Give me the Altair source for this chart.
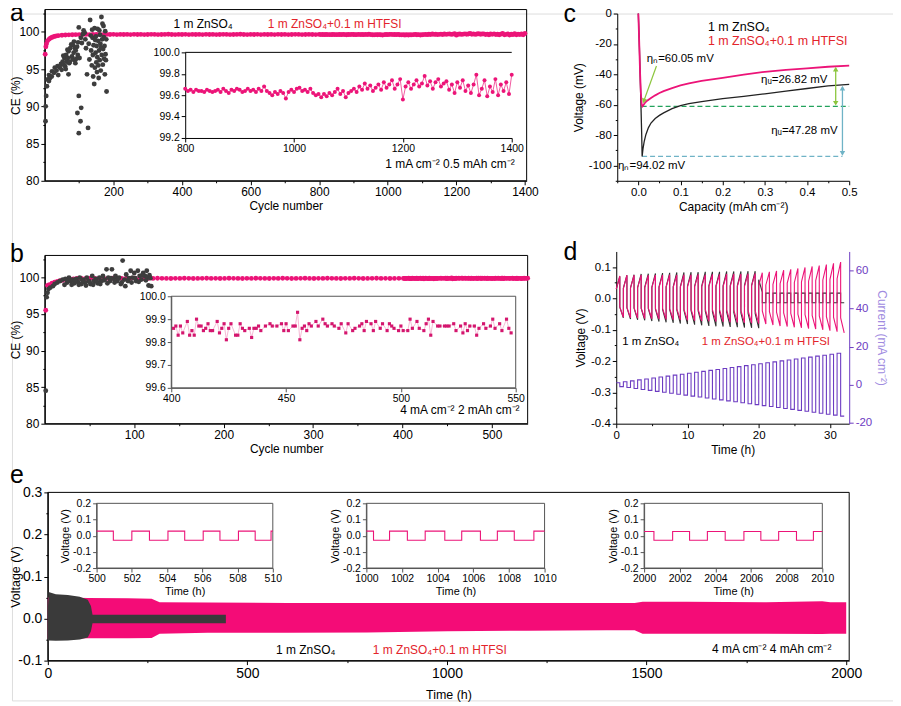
import altair as alt
import pandas as pd

FONT = "Liberation Sans"
PINK = "#EC1478"
GRAY = "#3D3D3D"
RED = "#E3242B"
PURPLE = "#6D3CC2"
LPURPLE = "#A08BDF"
GREEN = "#23A25C"
LGREEN = "#8CC63E"
TEAL = "#6FB3C6"
INSET = "#555555"

W, H = 885, 690
OX, OY = 12, 12
MINUS = "\u2212"

# ---------------- data ----------------
# panel a (1 mA cm-2, 0.5 mAh cm-2)
a_early_cycle = [1, 3, 5, 8, 12, 16, 20, 25, 30, 35, 40, 50, 60, 70, 80, 90, 100] + list(range(110, 800, 10))
a_early_ce = [97.0, 98.0, 98.4, 98.8, 99.0, 99.15, 99.25, 99.35, 99.42, 99.47, 99.5, 99.55, 99.58, 99.6, 99.62, 99.63, 99.64,
              99.65, 99.66, 99.64, 99.67, 99.65, 99.66, 99.64, 99.66, 99.65, 99.67,
              99.64, 99.66, 99.65, 99.66, 99.64, 99.67, 99.65, 99.66, 99.64, 99.65,
              99.67, 99.66, 99.64, 99.65, 99.66, 99.68, 99.65, 99.64, 99.66, 99.65,
              99.67, 99.64, 99.66, 99.65, 99.66, 99.64, 99.67, 99.65, 99.66, 99.64,
              99.65, 99.67, 99.66, 99.64, 99.65, 99.66, 99.68, 99.65, 99.64, 99.66,
              99.65, 99.67, 99.64, 99.66, 99.65, 99.66, 99.64, 99.67, 99.65, 99.66,
              99.64, 99.65, 99.67, 99.66, 99.64, 99.65, 99.66, 99.65, 99.64]
a_inset_cycle = list(range(800, 1401, 5))
a_inset_ce = [99.66, 99.64, 99.65, 99.63, 99.65, 99.64, 99.64, 99.63, 99.65, 99.64,
              99.63, 99.64, 99.65, 99.63, 99.66, 99.64, 99.62, 99.65, 99.64, 99.66,
              99.65, 99.63, 99.64, 99.66, 99.64, 99.65, 99.63, 99.66, 99.64, 99.68,
              99.64, 99.62, 99.60, 99.63, 99.61, 99.64, 99.62, 99.57, 99.63, 99.65,
              99.63, 99.66, 99.67, 99.64, 99.65, 99.63, 99.66, 99.62, 99.60, 99.61,
              99.58, 99.61, 99.59, 99.62, 99.60, 99.63, 99.66, 99.61, 99.64, 99.58,
              99.62, 99.64, 99.66, 99.63, 99.68, 99.65, 99.71, 99.66, 99.69, 99.64,
              99.67, 99.70, 99.65, 99.72, 99.67, 99.70, 99.74, 99.66, 99.70, 99.75,
              99.56, 99.68, 99.72, 99.66, 99.70, 99.74, 99.68, 99.71, 99.78, 99.69,
              99.73, 99.66, 99.72, 99.75, 99.68, 99.71, 99.73, 99.65, 99.70, 99.62,
              99.72, 99.67, 99.74, 99.64, 99.69, 99.62, 99.70, 99.79, 99.60, 99.66,
              99.74, 99.59, 99.68, 99.63, 99.75, 99.60, 99.70, 99.64, 99.72, 99.61,
              99.79]
a_gray_cycle = [2, 2.5, 4, 6, 8, 12, 12, 15, 20, 21, 27, 29, 34, 37, 39, 44, 47, 49, 52, 55,
                57, 59, 62, 64, 67, 69, 69, 71, 74, 79, 82, 84, 86, 88, 94, 96, 97, 99, 99, 95,
                99, 106, 104, 101, 111, 116, 123, 126, 128, 130, 132, 135, 137, 139, 140, 142, 144, 145, 146, 148,
                149, 150, 151, 152, 153, 155, 156, 158, 159, 160, 162, 163, 165, 166, 168, 169, 170, 172, 173, 175,
                176, 178, 180,
                105, 108, 113, 118, 120, 134, 138, 141, 147, 154, 157, 161, 164, 167, 171, 174, 177, 179, 54, 61,
                66, 73, 77, 81, 85, 90, 92, 89]
a_gray_ce = [88.0, 90.0, 91.4, 92.7, 93.6, 93.4, 94.2, 93.8, 94.0, 94.7, 94.5, 95.2, 94.8, 95.4, 94.2, 95.2, 95.7, 94.9, 96.0, 95.6,
             96.5, 95.4, 96.9, 96.0, 96.5, 97.4, 94.3, 95.8, 97.8, 96.7, 98.2, 97.2, 96.2, 97.8, 98.0, 96.9, 98.6, 100.6, 91.4, 89.1,
             86.4, 89.8, 88.0, 96.5, 99.7, 99.9, 94.3, 87.1, 98.4, 96.3, 101.6, 97.5, 95.5, 99.2, 96.9, 98.2, 93.0, 100.5, 95.2, 97.2,
             99.4, 95.9, 98.1, 94.6, 96.6, 98.8, 95.5, 97.5, 100.2, 96.2, 98.4, 94.8, 102.0, 96.9, 101.1, 95.6, 97.7, 99.3, 96.4, 94.3,
             100.1, 96.2, 92.0,
             99.2, 98.5, 100.2, 99.0, 97.8, 99.5, 100.3, 94.0, 98.9, 100.4, 93.8, 99.6, 97.9, 99.0, 100.8, 98.1, 97.0, 99.0, 96.8, 95.0,
             97.6, 96.0, 98.3, 96.4, 98.7, 97.5, 96.4, 95.8]

# panel b (4 mA cm-2, 2 mAh cm-2)
b_early_cycle = [1, 3, 5, 8, 11, 14, 17, 20, 24, 28, 32] + list(range(36, 400, 5))
b_early_ce = [95.5, 98.9, 99.0, 99.2, 99.35, 99.45, 99.55, 99.6, 99.7, 99.75, 99.8,
              99.86, 99.87, 99.85, 99.88, 99.86, 99.87, 99.85, 99.86, 99.88, 99.87,
              99.85, 99.86, 99.87, 99.88, 99.86, 99.85, 99.87, 99.86, 99.88, 99.87,
              99.86, 99.85, 99.87, 99.86, 99.88, 99.87, 99.85, 99.86, 99.87, 99.88,
              99.86, 99.87, 99.85, 99.86, 99.88, 99.87, 99.86, 99.85, 99.87, 99.86,
              99.88, 99.87, 99.86, 99.85, 99.87, 99.86, 99.88, 99.87, 99.85, 99.86,
              99.87, 99.88, 99.86, 99.85, 99.87, 99.86, 99.88, 99.87, 99.86, 99.85,
              99.87, 99.86, 99.88, 99.87, 99.85, 99.86, 99.87, 99.88, 99.86, 99.87,
              99.85, 99.86, 99.87]
b_inset_cycle = [401, 402, 403, 404, 405, 407, 408, 409, 410, 411,
                 412, 413, 414, 415, 416, 417, 418, 420, 421, 422,
                 423, 424, 425, 426, 428, 429, 430, 431, 432, 434,
                 435, 436, 437, 438, 439, 441, 443, 444, 446, 448,
                 449, 450, 451, 453, 454, 455, 456, 457, 458, 459,
                 460, 461, 463, 464, 466, 467, 468, 470, 471, 473,
                 474, 476, 477, 479, 480, 482, 483, 484, 485, 487,
                 488, 489, 491, 492, 494, 495, 496, 497, 499, 500,
                 501, 503, 504, 505, 507, 508, 510, 511, 512, 513,
                 514, 516, 517, 519, 520, 521, 523, 524, 526, 527,
                 528, 529, 530, 532, 533, 534, 536, 537, 539, 540,
                 541, 543, 544, 546, 547, 548]
b_inset_ce = [99.86, 99.87, 99.83, 99.87, 99.84, 99.89, 99.83, 99.85, 99.83, 99.90,
              99.87, 99.87, 99.85, 99.86, 99.88, 99.85, 99.85, 99.89, 99.84, 99.86,
              99.88, 99.81, 99.86, 99.88, 99.83, 99.83, 99.88, 99.86, 99.85, 99.86,
              99.82, 99.86, 99.86, 99.87, 99.85, 99.87, 99.88, 99.87, 99.87, 99.88,
              99.85, 99.88, 99.85, 99.87, 99.87, 99.93, 99.81, 99.86, 99.87, 99.85,
              99.88, 99.87, 99.89, 99.87, 99.90, 99.88, 99.87, 99.88, 99.87, 99.86,
              99.88, 99.84, 99.88, 99.85, 99.86, 99.87, 99.88, 99.85, 99.89, 99.88,
              99.85, 99.89, 99.86, 99.88, 99.85, 99.88, 99.87, 99.86, 99.85, 99.87,
              99.85, 99.85, 99.90, 99.86, 99.89, 99.86, 99.85, 99.88, 99.90, 99.83,
              99.89, 99.87, 99.87, 99.87, 99.87, 99.87, 99.88, 99.85, 99.87, 99.84,
              99.88, 99.85, 99.87, 99.87, 99.83, 99.86, 99.88, 99.86, 99.87, 99.90,
              99.86, 99.88, 99.85, 99.90, 99.86, 99.84]
b_gray_cycle = [1, 2, 3, 4, 6, 9, 11, 14, 17, 20, 23, 25, 27, 29, 31, 33, 35, 37, 39, 41,
                43, 45, 47, 49, 51, 53, 55, 57, 59, 61, 63, 65, 67, 69, 71, 73, 75, 77, 79, 81,
                83, 85, 87, 89, 91, 93, 96, 98, 100, 102, 104, 106, 108, 110, 112, 114, 115, 116, 117,
                22, 26, 30, 34, 38, 42, 46, 50, 54, 58, 62, 66, 70, 74, 78, 82, 86, 90, 94, 97,
                101, 105, 109, 113, 118, 119]
b_gray_ce = [84.5, 97.3, 97.9, 98.4, 98.6, 98.8, 99.1, 99.3, 99.5, 99.7, 99.8, 99.3, 99.97, 99.5, 99.7, 99.2, 99.8, 99.4, 99.97, 99.1,
             99.7, 99.3, 99.97, 99.5, 99.1, 100.2, 99.5, 99.8, 99.2, 99.97, 99.5, 100.2, 99.7, 101.1, 99.97, 99.5, 101.1, 99.8, 100.2, 99.5,
             99.97, 99.1, 102.3, 99.7, 100.4, 99.5, 100.9, 99.97, 100.6, 99.5, 100.9, 100.2, 99.7, 100.6, 100.2, 100.9, 99.97, 98.9, 100.3,
             99.0, 99.6, 99.0, 99.6, 99.0, 99.6, 98.9, 99.4, 99.0, 99.5, 99.1, 99.6, 99.2, 99.9, 99.3, 99.8, 99.3, 98.8, 99.9, 99.3,
             99.9, 99.4, 100.3, 99.6, 99.9, 98.8]

# panel c (voltage profiles)
c_pink_cap = [0.0, 0.002, 0.004, 0.006, 0.008, 0.010, 0.015, 0.02, 0.03, 0.04, 0.05, 0.06, 0.08, 0.10, 0.12,
              0.15, 0.20, 0.25, 0.30, 0.35, 0.40, 0.45, 0.50]
c_pink_v = [0.0, -18.0, -38.0, -52.0, -60.0, -61.0, -59.0, -57.5, -55.5, -53.8, -52.3, -51.0, -49.0, -47.3, -46.0,
            -44.3, -42.3, -40.2, -38.3, -37.0, -36.0, -35.0, -34.2]
c_black_cap = [0.0, 0.002, 0.004, 0.006, 0.008, 0.009, 0.011, 0.014, 0.018, 0.024, 0.03, 0.04, 0.05, 0.06, 0.08,
               0.10, 0.12, 0.15, 0.20, 0.25, 0.30, 0.35, 0.40, 0.45, 0.50]
c_black_v = [0.0, -17.0, -37.0, -58.0, -80.0, -94.0, -89.0, -84.0, -79.5, -75.0, -72.0, -69.0, -67.0, -65.3, -62.5,
             -60.5, -59.3, -58.0, -56.0, -54.5, -52.8, -51.0, -49.3, -47.6, -46.6]

# panel d (rate test, one cycle per hour): voltage at start / end of each half cycle
d_cycle_start = list(range(32))
d_pink_top0 = [0.030, 0.032, 0.033, 0.034, 0.034, 0.035, 0.035, 0.036, 0.036, 0.036, 0.037, 0.037, 0.037, 0.038, 0.038, 0.038,
               0.039, 0.039, 0.039, 0.040, 0.041, 0.043, 0.045, 0.047, 0.049, 0.051, 0.053, 0.055, 0.057, 0.059, 0.061, 0.063]
d_pink_top = [0.072, 0.074, 0.074, 0.075, 0.074, 0.075, 0.075, 0.076, 0.075, 0.076, 0.076, 0.077, 0.076, 0.077, 0.077, 0.078,
              0.078, 0.078, 0.079, 0.080, 0.082, 0.085, 0.088, 0.090, 0.093, 0.096, 0.099, 0.102, 0.105, 0.108, 0.112, 0.116]
d_pink_bot0 = [-0.028, -0.029, -0.030, -0.031, -0.031, -0.032, -0.032, -0.033, -0.033, -0.034, -0.034, -0.035, -0.035, -0.036, -0.036, -0.037,
               -0.037, -0.038, -0.038, -0.039, -0.040, -0.042, -0.044, -0.046, -0.048, -0.050, -0.052, -0.054, -0.056, -0.058, -0.060, -0.062]
d_pink_bot = [-0.060, -0.062, -0.063, -0.064, -0.065, -0.066, -0.067, -0.068, -0.069, -0.070, -0.071, -0.072, -0.073, -0.074, -0.075, -0.076,
              -0.077, -0.078, -0.079, -0.080, -0.082, -0.085, -0.088, -0.090, -0.092, -0.094, -0.096, -0.098, -0.100, -0.103, -0.106, -0.110]
d_black_top0 = [0.030, 0.033, 0.034, 0.035, 0.036, 0.036, 0.037, 0.037, 0.038, 0.038, 0.039, 0.039, 0.040, 0.040, 0.040, 0.041,
                0.041, 0.041, 0.042, 0.042, 0.060, 0.017, 0.017, 0.017, 0.017, 0.017, 0.017, 0.017, 0.017, 0.017, 0.017, 0.017]
d_black_top = [0.070, 0.074, 0.076, 0.078, 0.079, 0.080, 0.081, 0.082, 0.083, 0.083, 0.084, 0.084, 0.085, 0.085, 0.085, 0.086,
               0.086, 0.086, 0.087, 0.087, 0.020, 0.017, 0.017, 0.017, 0.017, 0.017, 0.017, 0.017, 0.017, 0.017, 0.017, 0.017]
d_black_bot0 = [-0.028, -0.030, -0.031, -0.032, -0.033, -0.034, -0.035, -0.036, -0.037, -0.038, -0.039, -0.040, -0.041, -0.042, -0.043, -0.044,
                -0.045, -0.046, -0.047, -0.048, -0.014, -0.014, -0.014, -0.014, -0.014, -0.014, -0.014, -0.014, -0.014, -0.014, -0.014, -0.014]
d_black_bot = [-0.062, -0.066, -0.068, -0.070, -0.072, -0.074, -0.076, -0.078, -0.080, -0.082, -0.084, -0.086, -0.088, -0.089, -0.090, -0.091,
               -0.092, -0.093, -0.094, -0.095, -0.014, -0.014, -0.014, -0.014, -0.014, -0.014, -0.014, -0.014, -0.014, -0.014, -0.014, -0.014]
d_current = [1.0, 1.5, 2.0, 2.5, 3.0, 3.5, 4.0, 4.5, 5.0, 5.5, 6.0, 6.5, 7.0, 7.5, 8.0, 8.5,
             9.0, 9.5, 10.0, 10.5, 11.0, 11.5, 12.0, 12.5, 13.0, 13.5, 14.0, 14.5, 15.0, 15.5, 16.0, 16.5]

# panel e (long-term cycling envelopes)
e_pink_t = [0, 50, 100, 200, 260, 280, 400, 600, 800, 1000, 1200, 1400, 1470, 1490, 1600, 1800, 1940, 1960, 2000]
e_pink_top = [0.050, 0.050, 0.049, 0.048, 0.047, 0.039, 0.038, 0.037, 0.037, 0.037, 0.037, 0.037, 0.037, 0.040, 0.040, 0.039, 0.041, 0.039, 0.039]
e_pink_bot = [-0.048, -0.048, -0.047, -0.047, -0.046, -0.036, -0.034, -0.034, -0.033, -0.030, -0.029, -0.028, -0.028, -0.036, -0.036, -0.036, -0.037, -0.036, -0.036]
e_gray_t = [0, 2, 20, 50, 80, 100, 108, 112, 300, 446]
e_gray_top = [0.020, 0.063, 0.058, 0.056, 0.052, 0.045, 0.030, 0.009, 0.009, 0.009]
e_gray_bot = [-0.100, -0.052, -0.053, -0.052, -0.050, -0.045, -0.030, -0.011, -0.011, -0.011]
e1_t = [500, 500.95, 502.0, 503.0, 504.05, 505.0, 506.05, 507.0, 508.05, 509.0, 509.9, 510]
e1_lv = [0.028, -0.028, 0.028, -0.028, 0.028, -0.028, 0.028, -0.028, 0.028, -0.028, 0.028]
e2_t = [1000, 1000.4, 1001.3, 1002.3, 1003.3, 1004.4, 1005.35, 1006.4, 1007.35, 1008.3, 1009.4, 1010]
e2_lv = [0.028, -0.028, 0.028, -0.028, 0.028, -0.028, 0.028, -0.028, 0.028, -0.028, 0.028]
e3_t = [2000, 2000.55, 2001.6, 2002.55, 2003.55, 2004.55, 2005.6, 2006.55, 2007.55, 2008.55, 2009.5, 2010]
e3_lv = [0.026, -0.028, 0.026, -0.028, 0.026, -0.028, 0.026, -0.028, 0.026, -0.028, 0.026]

# ---------------- layout (page pixels of each plot area) ----------------
P = {
    'a':  dict(x=(45, 529), y=(8, 180), xd=[0, 1405], yd=[80, 103]),
    'ai': dict(x=(186, 514), y=(51, 137), xd=[800, 1400], yd=[99.2, 100.0]),
    'b':  dict(x=(45, 530), y=(255, 424), xd=[0, 540], yd=[80, 103]),
    'bi': dict(x=(172, 518), y=(296, 388), xd=[400, 550], yd=[99.6, 100.0]),
    'c':  dict(x=(620, 853), y=(12, 180), xd=[-0.05, 0.5], yd=[-110, 0]),
    'd':  dict(x=(619, 853), y=(251, 424), xd=[0, 32.7], yd=[-0.4, 0.15], yr=[-20.5, 70]),
    'e':  dict(x=(48, 853), y=(493, 662), xd=[0, 2007.5], yd=[-0.1, 0.3]),
    'e1': dict(x=(97, 274), y=(504, 569), xd=[500, 510], yd=[-0.2, 0.2]),
    'e2': dict(x=(368, 547), y=(504, 569), xd=[1000, 1010], yd=[-0.2, 0.2]),
    'e3': dict(x=(647, 826), y=(504, 569), xd=[2000, 2010], yd=[-0.2, 0.2]),
}


def xs(p):
    g = P[p]
    return alt.Scale(domain=g['xd'], range=[g['x'][0] - OX, g['x'][1] - OX], nice=False, zero=False)


def ys(p, key='yd'):
    g = P[p]
    return alt.Scale(domain=g[key], range=[g['y'][1] - OY, g['y'][0] - OY], nice=False, zero=False)


def offset(p, orient):
    g = P[p]
    if orient == 'bottom':
        return (g['y'][1] - OY) - H
    if orient == 'left':
        return -(g['x'][0] - OX)
    return (g['x'][1] - OX) - W


def axis(p, orient, values, title, fmt, lfs=12, tfs=12, tpad=3, color='black', lcolor=None, tcolor=None, title_x=None):
    kw = dict(orient=orient, offset=offset(p, orient), values=values, title=title, grid=False,
              labelExpr=f"replace(format(datum.value, '{fmt}'), '{MINUS}', '-')",
              labelFont=FONT, titleFont=FONT, labelFontSize=lfs, titleFontSize=tfs,
              titleFontWeight='normal', labelColor=lcolor or color, titleColor=tcolor or color,
              domainColor=color, tickColor=color, tickSize=4, labelPadding=2, titlePadding=tpad,
              labelOverlap=False, labelFlush=False)
    if title_x is not None:
        kw['titleX'] = title_x
    return alt.Axis(**kw)


def minor_axis(p, orient, values, color='black'):
    return alt.Axis(orient=orient, offset=offset(p, orient), values=values, title=None, grid=False,
                    labels=False, domain=False, ticks=True, tickSize=2, tickColor=color)


def frame(p, color='black', key='yd', mx=None, my=None, visible=True):
    g = P[p]
    df = pd.DataFrame({'x0': [g['xd'][0]], 'x1': [g['xd'][1]], 'y0': [g[key][0]], 'y1': [g[key][1]]})
    xa = minor_axis(p, 'bottom', mx) if mx else None
    ya = minor_axis(p, 'left', my) if my else None
    return alt.Chart(df).mark_rect(fillOpacity=0, stroke=color, strokeWidth=1,
                                   strokeOpacity=1 if visible else 0).encode(
        x=alt.X('x0:Q', scale=xs(p), axis=xa), x2='x1:Q',
        y=alt.Y('y0:Q', scale=ys(p, key), axis=ya), y2='y1:Q')


def txt(p, xv, yv, s, color='black', size=12, align='left', baseline='middle'):
    df = pd.DataFrame({'x': [xv], 'y': [yv], 't': [s]})
    return alt.Chart(df).mark_text(font=FONT, fontSize=size, color=color, align=align, baseline=baseline).encode(
        x=alt.X('x:Q', scale=xs(p), axis=None), y=alt.Y('y:Q', scale=ys(p), axis=None), text='t:N')


def letter(s, px, py):
    df = pd.DataFrame({'t': [s]})
    return alt.Chart(df).mark_text(font=FONT, fontSize=25, color='black', align='left', baseline='alphabetic').encode(
        x=alt.value(px - OX), y=alt.value(py - OY), text='t:N')


def seg(p, x0, x1, y0, y1, color, width=1.2, dash=None):
    df = pd.DataFrame({'x': [x0], 'x2': [x1], 'y': [y0], 'y2': [y1]})
    kw = dict(color=color, strokeWidth=width)
    if dash:
        kw['strokeDash'] = dash
    return alt.Chart(df).mark_rule(**kw).encode(
        x=alt.X('x:Q', scale=xs(p), axis=None), x2='x2:Q',
        y=alt.Y('y:Q', scale=ys(p), axis=None), y2='y2:Q')


def head(p, xv, yv, shape, color, angle=0, size=30):
    df = pd.DataFrame({'x': [xv], 'y': [yv]})
    return alt.Chart(df).mark_point(shape=shape, filled=True, color=color, size=size, angle=angle, opacity=1).encode(
        x=alt.X('x:Q', scale=xs(p), axis=None), y=alt.Y('y:Q', scale=ys(p), axis=None))


def cycle_table(starts, tops0, tops, bots0, bots):
    rows = []
    for t0, a0, a, b0, b in zip(starts, tops0, tops, bots0, bots):
        rows += [(t0, a0), (t0 + 0.5, a), (t0 + 0.5, b0), (t0 + 1, b)]
    df = pd.DataFrame(rows, columns=['t', 'v'])
    df['i'] = range(len(df))
    return df


def level_table(times, levels):
    rows = []
    for k, lv in enumerate(levels):
        rows += [(times[k], lv), (times[k + 1], lv)]
    df = pd.DataFrame(rows, columns=['t', 'v'])
    df['i'] = range(len(df))
    return df


SUB4 = "\u2084"
CM2 = "cm\u207b\u00b2"
L1 = f"1 m ZnSO{SUB4}"
L2 = f"1 m ZnSO{SUB4}+0.1 m HTFSI"

layers = []

# ================= panel a =================
layers.append(frame('a', mx=[100, 300, 500, 700, 900, 1100, 1300], my=[82.5, 87.5, 92.5, 97.5, 102.5]))
dfa = pd.DataFrame(list(zip(a_early_cycle + a_inset_cycle, a_early_ce + a_inset_ce)), columns=['cycle', 'ce'])
layers.append(alt.Chart(dfa).mark_circle(size=24, color=PINK, opacity=1).encode(
    x=alt.X('cycle:Q', scale=xs('a'), axis=axis('a', 'bottom', [200, 400, 600, 800, 1000, 1200, 1400], 'Cycle number', 'd')),
    y=alt.Y('ce:Q', scale=ys('a'), axis=axis('a', 'left', [80, 85, 90, 95, 100], 'CE (%)', 'd', title_x=-22))))
dfag = pd.DataFrame(list(zip(a_gray_cycle, a_gray_ce)), columns=['cycle', 'ce'])
layers.append(alt.Chart(dfag).mark_circle(size=24, color=GRAY, opacity=1).encode(
    x=alt.X('cycle:Q', scale=xs('a'), axis=None), y=alt.Y('ce:Q', scale=ys('a'), axis=None)))
dfai = pd.DataFrame(list(zip(a_inset_cycle, a_inset_ce)), columns=['cycle', 'ce'])
layers.append(alt.Chart(dfai).mark_line(color=PINK, strokeWidth=0.7).encode(
    x=alt.X('cycle:Q', scale=xs('ai'), axis=axis('ai', 'bottom', [800, 1000, 1200, 1400], None, 'd', lfs=10.5)),
    y=alt.Y('ce:Q', scale=ys('ai'), axis=axis('ai', 'left', [99.2, 99.4, 99.6, 99.8, 100.0], None, '.1f', lfs=10.5))))
layers.append(alt.Chart(dfai).mark_circle(size=16, color=PINK, opacity=1).encode(
    x=alt.X('cycle:Q', scale=xs('ai'), axis=None), y=alt.Y('ce:Q', scale=ys('ai'), axis=None)))
layers.append(seg('ai', 800, 1400, 100.0, 100.0, 'black', 1))
layers.append(txt('a', 375, 101.0, L1))
layers.append(txt('a', 650, 101.0, L2, color=RED))
layers.append(txt('a', 1370, 82.2, f"1 mA {CM2}  0.5 mAh {CM2}", align='right'))

# ================= panel b =================
layers.append(frame('b', mx=[50, 150, 250, 350, 450], my=[82.5, 87.5, 92.5, 97.5, 102.5]))
dfb = pd.DataFrame(list(zip(b_early_cycle + b_inset_cycle, b_early_ce + b_inset_ce)), columns=['cycle', 'ce'])
dfb = dfb[dfb['cycle'] <= 540]
layers.append(alt.Chart(dfb).mark_circle(size=24, color=PINK, opacity=1).encode(
    x=alt.X('cycle:Q', scale=xs('b'), axis=axis('b', 'bottom', [100, 200, 300, 400, 500], 'Cycle number', 'd', tpad=3)),
    y=alt.Y('ce:Q', scale=ys('b'), axis=axis('b', 'left', [80, 85, 90, 95, 100], 'CE (%)', 'd', title_x=-22))))
dfbg = pd.DataFrame(list(zip(b_gray_cycle, b_gray_ce)), columns=['cycle', 'ce'])
layers.append(alt.Chart(dfbg).mark_circle(size=24, color=GRAY, opacity=1).encode(
    x=alt.X('cycle:Q', scale=xs('b'), axis=None), y=alt.Y('ce:Q', scale=ys('b'), axis=None)))
dfbi = pd.DataFrame(list(zip(b_inset_cycle, b_inset_ce)), columns=['cycle', 'ce'])
layers.append(frame('bi', color=INSET))
layers.append(alt.Chart(dfbi).mark_line(color="#F29AC2", strokeWidth=0.7).encode(
    x=alt.X('cycle:Q', scale=xs('bi'), axis=axis('bi', 'bottom', [400, 450, 500, 550], None, 'd', lfs=10.5, color=INSET, lcolor='black')),
    y=alt.Y('ce:Q', scale=ys('bi'), axis=axis('bi', 'left', [99.6, 99.7, 99.8, 99.9, 100.0], None, '.1f', lfs=10.5, color=INSET, lcolor='black'))))
layers.append(alt.Chart(dfbi).mark_square(size=10, color="#D4166E", opacity=1).encode(
    x=alt.X('cycle:Q', scale=xs('bi'), axis=None), y=alt.Y('ce:Q', scale=ys('bi'), axis=None)))
layers.append(txt('b', 531, 81.9, f"4 mA {CM2}  2 mAh {CM2}", align='right'))

# ================= panel c =================
dfcp = pd.DataFrame(list(zip(c_pink_cap, c_pink_v)), columns=['cap', 'v'])
dfcp['i'] = range(len(dfcp))
dfcb = pd.DataFrame(list(zip(c_black_cap, c_black_v)), columns=['cap', 'v'])
dfcb['i'] = range(len(dfcb))
layers.append(frame('c', visible=False, mx=[-0.05, 0.05, 0.15, 0.25, 0.35, 0.45], my=[-110, -90, -70, -50, -30, -10]))
layers.append(seg('c', 0.008, 0.5, -61, -61, GREEN, 1.3, [5, 3]))
layers.append(seg('c', 0.009, 0.484, -94, -94, TEAL, 1.3, [5, 3]))
layers.append(alt.Chart(dfcb).mark_line(color='#222222', strokeWidth=1.3).encode(
    x=alt.X('cap:Q', scale=xs('c'), axis=axis('c', 'bottom', [0.0, 0.1, 0.2, 0.3, 0.4, 0.5], f"Capacity (mAh {CM2})", '.1f', lfs=11.5)),
    y=alt.Y('v:Q', scale=ys('c'), axis=axis('c', 'left', [-100, -80, -60, -40, -20, 0], 'Voltage (mV)', 'd', lfs=11.5)),
    order='i:Q'))
layers.append(alt.Chart(dfcp).mark_line(color=PINK, strokeWidth=1.8).encode(
    x=alt.X('cap:Q', scale=xs('c'), axis=None), y=alt.Y('v:Q', scale=ys('c'), axis=None), order='i:Q'))
layers.append(seg('c', 0.468, 0.468, -59.5, -36, LGREEN, 1.3))
layers.append(head('c', 0.468, -36.5, 'triangle-up', LGREEN))
layers.append(head('c', 0.468, -59.0, 'triangle-down', LGREEN))
layers.append(seg('c', 0.484, 0.484, -92.5, -48.5, TEAL, 1.3))
layers.append(head('c', 0.484, -49.0, 'triangle-up', TEAL))
layers.append(head('c', 0.484, -92.0, 'triangle-down', TEAL))
layers.append(seg('c', 0.043, 0.013, -34.5, -57.5, LGREEN, 1.2))
layers.append(head('c', 0.013, -57.5, 'triangle-up', LGREEN, angle=200))
layers.append(txt('c', 0.165, -9, L1, size=12.5))
layers.append(txt('c', 0.165, -18, L2, color=RED, size=12.5))
layers.append(txt('c', 0.02, -30, "\u03b7\u2099=60.05 mV", size=11.5))
layers.append(txt('c', 0.291, -43.7, "\u03b7\u1d64=26.82 mV", size=11.5))
layers.append(txt('c', 0.315, -77.4, "\u03b7\u1d64=47.28 mV", size=11.5))
layers.append(txt('c', -0.048, -100.4, "\u03b7\u2099=94.02 mV", size=11.5))

# ================= panel d =================
dfdb = cycle_table(d_cycle_start, d_black_top0, d_black_top, d_black_bot0, d_black_bot)
dfdp = cycle_table(d_cycle_start, d_pink_top0, d_pink_top, d_pink_bot0, d_pink_bot)
neg_current = [-c for c in d_current]
dfdc = cycle_table(d_cycle_start, d_current, d_current, neg_current, neg_current)
layers.append(frame('d', visible=False, mx=[5, 15, 25], my=[-0.35, -0.25, -0.15, -0.05, 0.05]))
layers.append(alt.Chart(dfdb).mark_line(color='#333333', strokeWidth=1.1).encode(
    x=alt.X('t:Q', scale=xs('d'), axis=axis('d', 'bottom', [0, 10, 20, 30], 'Time (h)', 'd', lfs=11.5)),
    y=alt.Y('v:Q', scale=ys('d'), axis=axis('d', 'left', [-0.4, -0.3, -0.2, -0.1, 0.0, 0.1], 'Voltage (V)', '.1f', lfs=11.5)),
    order='i:Q'))
layers.append(alt.Chart(dfdp).mark_line(color=PINK, strokeWidth=1.1).encode(
    x=alt.X('t:Q', scale=xs('d'), axis=None), y=alt.Y('v:Q', scale=ys('d'), axis=None), order='i:Q'))
layers.append(alt.Chart(dfdc).mark_line(color=PURPLE, strokeWidth=1.1).encode(
    x=alt.X('t:Q', scale=xs('d'), axis=None),
    y=alt.Y('v:Q', scale=ys('d', 'yr'), axis=axis('d', 'right', [-20, 0, 20, 40, 60], f"Current (mA {CM2})", 'd', lfs=11.5,
                                                   color=PURPLE, lcolor=PURPLE, tcolor=LPURPLE)),
    order='i:Q'))
layers.append(txt('d', 0.85, -0.139, L1, size=11.5))
layers.append(txt('d', 12.0, -0.139, L2, color=RED, size=11.5))

# ================= panel e =================
layers.append(frame('e', mx=[250, 750, 1250, 1750], my=[-0.05, 0.05, 0.15, 0.25]))
dfep = pd.DataFrame(list(zip(e_pink_t, e_pink_top, e_pink_bot)), columns=['t', 'top', 'bot'])
dfeg = pd.DataFrame(list(zip(e_gray_t, e_gray_top, e_gray_bot)), columns=['t', 'top', 'bot'])
layers.append(alt.Chart(dfep).mark_area(color="#F40C77", opacity=1).encode(
    x=alt.X('t:Q', scale=xs('e'), axis=axis('e', 'bottom', [0, 500, 1000, 1500, 2000], 'Time (h)', 'd', lfs=14, tfs=12.5, tpad=8)),
    y=alt.Y('top:Q', scale=ys('e'), axis=axis('e', 'left', [-0.1, 0.0, 0.1, 0.2, 0.3], 'Voltage (V)', '.1f', lfs=14, tfs=12.5, title_x=-25)),
    y2='bot:Q'))
layers.append(alt.Chart(dfeg).mark_area(color="#3A3A3A", opacity=1).encode(
    x=alt.X('t:Q', scale=xs('e'), axis=None), y=alt.Y('top:Q', scale=ys('e'), axis=None), y2='bot:Q'))
layers.append(txt('e', 646, -0.075, L1, align='center'))
layers.append(txt('e', 982, -0.075, L2, color=RED, align='center'))
layers.append(txt('e', 1963, -0.072, f"4 mA {CM2}  4 mAh {CM2}", align='right'))
for key, tt, lv, xv in [('e1', e1_t, e1_lv, [500, 502, 504, 506, 508, 510]),
                        ('e2', e2_t, e2_lv, [1000, 1002, 1004, 1006, 1008, 1010]),
                        ('e3', e3_t, e3_lv, [2000, 2002, 2004, 2006, 2008, 2010])]:
    layers.append(frame(key, color=INSET))
    layers.append(alt.Chart(level_table(tt, lv)).mark_line(color=PINK, strokeWidth=1.1).encode(
        x=alt.X('t:Q', scale=xs(key), axis=axis(key, 'bottom', xv, 'Time (h)', 'd', lfs=10.5, tfs=11, tpad=1, color=INSET, lcolor='black', tcolor='black')),
        y=alt.Y('v:Q', scale=ys(key), axis=axis(key, 'left', [-0.2, -0.1, 0.0, 0.1, 0.2], 'Voltage (V)', '.1f', lfs=10.5, tfs=11, tpad=2, color=INSET, lcolor='black', tcolor='black')),
        order='i:Q'))

# ================= panel letters =================
layers.append(letter('a', 10, 19))
layers.append(letter('b', 10, 262))
layers.append(letter('c', 566, 20))
layers.append(letter('d', 566, 260))
layers.append(letter('e', 10, 484))

chart = alt.layer(*layers).resolve_scale(x='independent', y='independent').properties(
    width=W, height=H, autosize=alt.AutoSizeParams(type='none'),
    padding={'left': 4, 'top': 4, 'right': 0, 'bottom': 0}
).configure_view(stroke=None).configure(font=FONT)

chart.save("out.html", embed_options={"renderer": "svg", "actions": False})
